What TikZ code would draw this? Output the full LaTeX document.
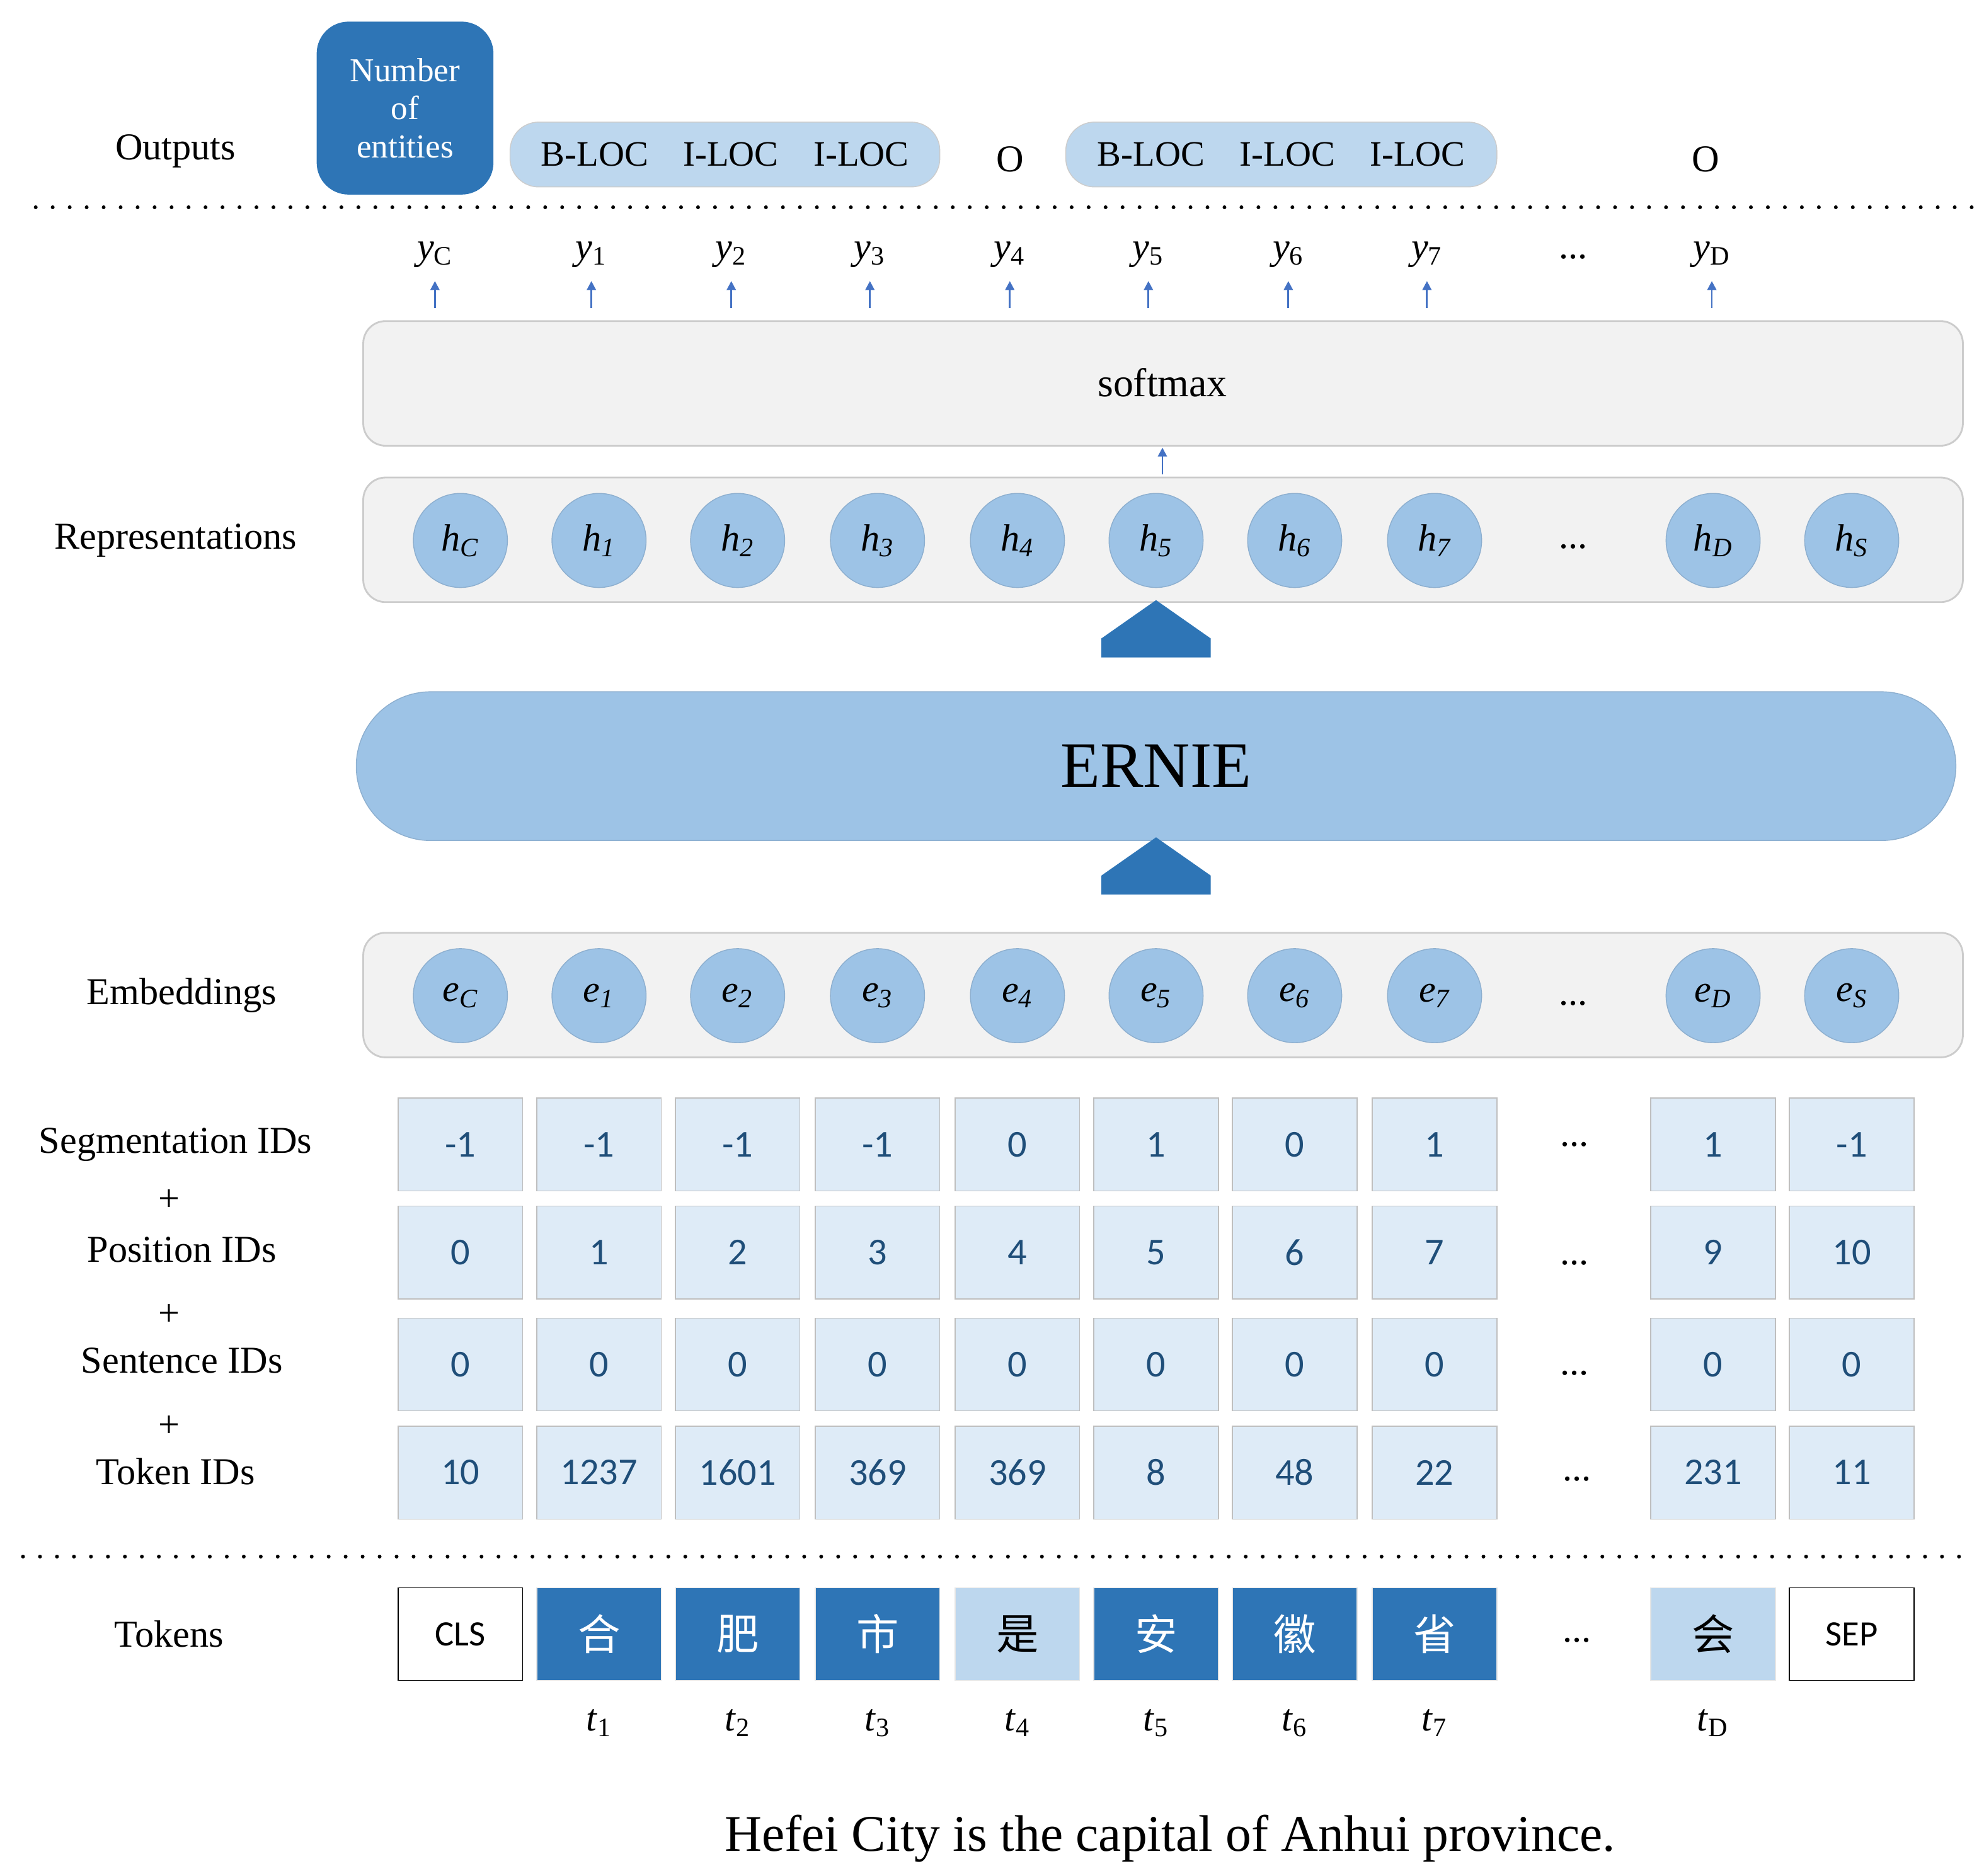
\documentclass[tikz,border=0pt]{standalone}
\usepackage{fontspec}
\setmainfont{Liberation Serif}
\newfontfamily\calf{Carlito}
\newfontfamily\cjk{Noto Sans CJK SC}
\usetikzlibrary{arrows.meta,shapes.arrows}
\definecolor{dblue}{HTML}{2E75B6}
\definecolor{lblue}{HTML}{BDD7EE}
\definecolor{cell}{HTML}{DEEBF7}
\definecolor{circ}{HTML}{9DC3E6}
\definecolor{num}{HTML}{1F4E79}
\definecolor{arr}{HTML}{4472C4}
\tikzset{
 lab/.style={font=\fontsize{17}{20}\selectfont},
 panel/.style={draw=black!20,fill=black!5,rounded corners=0.35cm,line width=0.8pt},
 cellb/.style={draw=black!25,fill=cell,minimum width=1.96cm,minimum height=1.46cm,inner sep=0pt,font=\calf\fontsize{17}{20}\selectfont,text=num},
 tok/.style={minimum width=1.96cm,minimum height=1.46cm,inner sep=0pt,font=\cjk\fontsize{19}{22}\selectfont},
 circn/.style={circle,fill=circ,draw=circ!90!black,minimum size=1.48cm,inner sep=0pt,font=\fontsize{17}{20}\selectfont\itshape},
 sm/.style={-{Triangle[length=4pt,width=4pt]},arr,line width=0.8pt},
 big/.style={single arrow,shape border rotate=90,fill=dblue,minimum width=1.72cm,single arrow head extend=0cm,single arrow tip angle=110,inner sep=0pt,minimum height=0.9cm},
 dots/.style={line width=1.6pt,dash pattern=on 0.1pt off 7.5pt,line cap=round}
}
\begin{document}
\begin{tikzpicture}[x=0.02cm,y=-0.02cm]
\useasboundingbox (0,0) rectangle (1560,1475);
% left labels
\node[lab] (lo) at (138,119) {Outputs};
\node[lab] (lr) at (138,425) {Representations};
\node[lab] (le) at (143,783) {Embeddings};
\node[lab] (ls) at (138,900) {Segmentation IDs};
\node[lab] (p1) at (133,944) {+};
\node[lab] (lp) at (143,983) {Position IDs};
\node[lab] (p2) at (133,1034) {+};
\node[lab] (lse) at (143,1070) {Sentence IDs};
\node[lab] (p3) at (133,1122) {+};
\node[lab] (lt) at (138,1157) {Token IDs};
\node[lab] (ltok) at (133,1285) {Tokens};
% outputs
\node[fill=dblue,rounded corners=0.5cm,minimum width=2.78cm,minimum height=2.72cm,text=white,align=center,font=\fontsize{15}{17}\selectfont,inner sep=0pt] (ne) at (318.5,85) {Number\\of\\entities};
\node[fill=lblue,draw=black!20,rounded corners=0.45cm,minimum width=6.76cm,minimum height=1.02cm,font=\fontsize{16}{19}\selectfont] (g1) at (570,121.5) {B-LOC\hspace{0.55cm}I-LOC\hspace{0.55cm}I-LOC};
\node[lab] (o1) at (794,125) {O};
\node[fill=lblue,draw=black!20,rounded corners=0.45cm,minimum width=6.78cm,minimum height=1.02cm,font=\fontsize{16}{19}\selectfont] (g2) at (1007.5,121.5) {B-LOC\hspace{0.55cm}I-LOC\hspace{0.55cm}I-LOC};
\node[lab] (o2) at (1341,125) {O};
\coordinate (d1a) at (28,163); \coordinate (d1b) at (1555,163);
\draw[dots] (d1a) -- (d1b);
% y labels
\foreach \n/\x/\s in {c/342/C,1/465/1,2/575/2,3/684/3,4/794/4,5/903/5,6/1013/6,7/1122/7,d/1346/D}{
 \node[lab] (y\n) at (\x,200) {\textit{y}\textsubscript{\s}};
 \coordinate (ya\n) at (\x,242);
 \coordinate (yb\n) at (\x,221);
 \draw[sm] (ya\n) -- (yb\n);
}
\node[lab] (ydots) at (1237,202) {...};
% softmax
\node[panel,minimum width=25.16cm,minimum height=1.96cm] (soft) at (914.5,301.5) {};
\node[font=\fontsize{18}{21}\selectfont] (softt) at (914,301) {softmax};
\node[panel,minimum width=25.16cm,minimum height=1.96cm] (rep) at (914.5,424.5) {};
\coordinate (sa) at (914,373); \coordinate (sb) at (914,352);
\draw[sm] (sa) -- (sb);
\foreach \n/\x/\s in {c/362/C,1/471/1,2/580/2,3/690/3,4/800/4,5/909/5,6/1018/6,7/1128/7,d/1347/D,s/1456/S}{
 \node[circn] (h\n) at (\x,425) {h\textsubscript{\s}};
}
\node[lab] (hdots) at (1237,430) {...};
\node[big] (ba1) at (909,509.5) {};
\node[fill=circ,draw=circ!90!black,rounded corners=1.17cm,minimum width=25.16cm,minimum height=2.34cm,font=\fontsize{29}{33}\selectfont] (ernie) at (909,602.5) {ERNIE};
\node[big] (ba2) at (909,696) {};
\node[panel,minimum width=25.16cm,minimum height=1.96cm] (emb) at (914.5,782.5) {};
\foreach \n/\x/\s in {c/362/C,1/471/1,2/580/2,3/690/3,4/800/4,5/909/5,6/1018/6,7/1128/7,d/1347/D,s/1456/S}{
 \node[circn] (e\n) at (\x,783) {e\textsubscript{\s}};
}
\node[lab] (edots) at (1237,789) {...};
% ID grids
\foreach \i/\x/\a/\b/\c/\d in {1/362/-1/0/0/10,2/471/-1/1/0/1237,3/580/-1/2/0/1601,4/690/-1/3/0/369,5/800/0/4/0/369,6/909/1/5/0/8,7/1018/0/6/0/48,8/1128/1/7/0/22,9/1347/1/9/0/231,10/1456/-1/10/0/11}{
 \node[cellb] (s\i) at (\x,900) {\a};
 \node[cellb] (p\i) at (\x,985) {\b};
 \node[cellb] (n\i) at (\x,1073) {\c};
 \node[cellb] (t\i) at (\x,1158) {\d};
}
\node[lab] (sd) at (1238,900) {...};
\node[lab] (pd) at (1238,993) {...};
\node[lab] (nd) at (1238,1080) {...};
\node[lab] (td) at (1240,1163) {...};
\coordinate (d2a) at (18,1224); \coordinate (d2b) at (1545,1224);
\draw[dots] (d2a) -- (d2b);
% tokens
\node[tok,draw=black,fill=white,font=\calf\fontsize{16}{19}\selectfont] (k0) at (362,1285) {CLS};
\foreach \n/\x/\c/\f/\t in {1/471/dblue/white/合,2/580/dblue/white/肥,3/690/dblue/white/市,4/800/lblue/black/是,5/909/dblue/white/安,6/1018/dblue/white/徽,7/1128/dblue/white/省,D/1347/lblue/black/会}{
 \node[tok,fill=\c,text=\f,draw=black!10] (k\n) at (\x,1285) {\t};
 \node[lab] (tl\n) at (\x,1355) {\textit{t}\textsubscript{\n}};
}
\node[tok,draw=black,fill=white,font=\calf\fontsize{16}{19}\selectfont] (ks) at (1456,1285) {SEP};
\node[lab] (kd) at (1240,1290) {...};
\node[font=\fontsize{23}{27}\selectfont] (sent) at (920,1446) {Hefei City is the capital of Anhui province.};
\end{tikzpicture}
\end{document}
